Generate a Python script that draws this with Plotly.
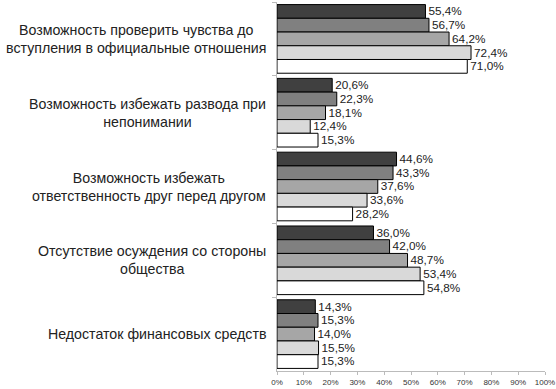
import plotly.graph_objects as go

categories = [
    "Возможность проверить чувства до<br>вступления в официальные отношения",
    "Возможность избежать развода при<br>непонимании",
    "Возможность избежать<br>ответственность друг перед другом",
    "Отсутствие осуждения со стороны<br>общества",
    "Недостаток финансовых средств",
]
series_names = ["Ряд 1", "Ряд 2", "Ряд 3", "Ряд 4", "Ряд 5"]
values = [
    [55.4, 20.6, 44.6, 36.0, 14.3],
    [56.7, 22.3, 43.3, 42.0, 15.3],
    [64.2, 18.1, 37.6, 48.7, 14.0],
    [72.4, 12.4, 33.6, 53.4, 15.5],
    [71.0, 15.3, 28.2, 54.8, 15.3],
]
colors = ["#404040", "#808080", "#a6a6a6", "#d9d9d9", "#ffffff"]
tick_vals = [0, 10, 20, 30, 40, 50, 60, 70, 80, 90, 100]
tick_text = [f"{v}%" for v in tick_vals]

FONT = "Liberation Sans, Arial, sans-serif"

fig = go.Figure()
for name, vals, col in zip(series_names, values, colors):
    fig.add_trace(go.Bar(
        y=categories, x=vals, name=name, orientation="h",
        marker=dict(color=col, line=dict(color="#000000", width=1)),
        text=[f"{v:.1f}%".replace(".", ",") for v in vals],
        textposition="outside",
        textfont=dict(family=FONT, size=12, color="#222222"),
        cliponaxis=False,
    ))

for c in categories:
    fig.add_annotation(
        x=-0.034, xref="paper", y=c, yref="y", text=c, showarrow=False,
        xanchor="right", yanchor="middle", align="center",
        font=dict(family=FONT, size=14.2, color="#222222"),
    )

fig.update_layout(
    width=556, height=389,
    margin=dict(l=277, r=11, t=2, b=18, autoexpand=False),
    paper_bgcolor="white", plot_bgcolor="white",
    barmode="group", bargap=0.07, bargroupgap=0,
    showlegend=False,
    font=dict(family=FONT, color="#222222"),
)
fig.update_xaxes(
    range=[0, 100], tickvals=tick_vals, ticktext=tick_text,
    showgrid=False, zeroline=False, showline=True, linecolor="#bbbbbb", linewidth=1,
    ticks="outside", ticklen=3, tickcolor="#bbbbbb",
    tickfont=dict(size=8, color="#333333"),
)
fig.update_yaxes(
    autorange="reversed", showticklabels=False,
    showgrid=False, zeroline=False, showline=True, linecolor="#bbbbbb", linewidth=1,
    ticks="outside", tickson="boundaries", ticklen=4, tickcolor="#bbbbbb",
)
fig.write_html("out.html", post_script="document.body.style.margin='0';",
               config={"displayModeBar": False})
